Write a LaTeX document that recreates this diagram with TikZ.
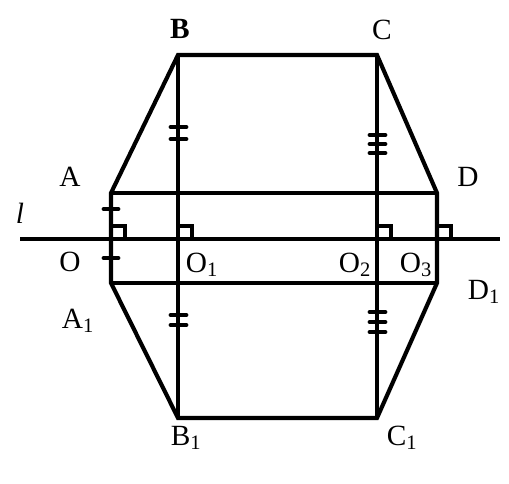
\documentclass[tikz,border=0pt]{standalone}
\usepackage{fontspec}
\setmainfont{Liberation Serif}
\newcommand{\lbl}{\fontsize{22}{24}\selectfont}
\begin{document}
\begin{tikzpicture}
            [x=0.75pt,y=-0.75pt,line width=3.1pt,every node/.style={font=\lbl,inner sep=0pt}]
            \useasboundingbox (0,0) rectangle (509,484);
            \coordinate (B) at (178,55);
            \coordinate (C) at (377,55);
            \coordinate (A) at (111,193);
            \coordinate (D) at (437,193);
            \coordinate (O) at (111,239);
            \coordinate (O1) at (178,239);
            \coordinate (O2) at (377,239);
            \coordinate (O3) at (437,239);
            \coordinate (A1) at (111,283);
            \coordinate (D1) at (437,283);
            \coordinate (B1) at (178,418);
            \coordinate (C1) at (377,418);
            \coordinate (l1) at (20,239);
            \coordinate (l2) at (500,239);

            % outline and inner lines
            \draw (A) -- (B) -- (C) -- (D) -- (D1) -- (C1) -- (B1) -- (A1) -- cycle;
            \draw (A) -- (D);
            \draw (A1) -- (D1);
            \draw (B) -- (B1);
            \draw (C) -- (C1);
            \draw[line width=2.8pt] (l1) -- (l2);

            % right angles
            \foreach \p in {O, O1, O2, O3} \draw[line width=2.3pt] (\p) ++(0,-13) -- ++(14,0) -- ++(0,13);

            % equal marks
            \foreach \y in {209, 258} \draw[line width=3.6pt,line cap=round] (104,\y) -- (118,\y);
            \foreach \y in {127, 139, 315, 325} \draw[line width=3.6pt,line cap=round] (171,\y) -- (186,\y);
            \foreach \y in {135, 144, 153, 312, 322, 332} \draw[line width=3.6pt,line cap=round] (370,\y) -- (385,\y);

            % labels
            \node (lB) at (180,29) {\textbf{B}};
            \node (lC) at (382,30) {C};
            \node (lA) at (70,177) {A};
            \node (lD) at (468,177) {D};
            \node (ll) at (20,213) {\textit{l}};
            \node (lO) at (70,262) {O};
            \node (lO1) at (202,265) {O\textsubscript{1}};
            \node (lO2) at (355,265) {O\textsubscript{2}};
            \node (lO3) at (416,265) {O\textsubscript{3}};
            \node (lD1) at (484,292) {D\textsubscript{1}};
            \node (lA1) at (78,321) {A\textsubscript{1}};
            \node (lB1) at (186,438) {B\textsubscript{1}};
            \node (lC1) at (402,438) {C\textsubscript{1}};
        \end{tikzpicture}
\end{document}
